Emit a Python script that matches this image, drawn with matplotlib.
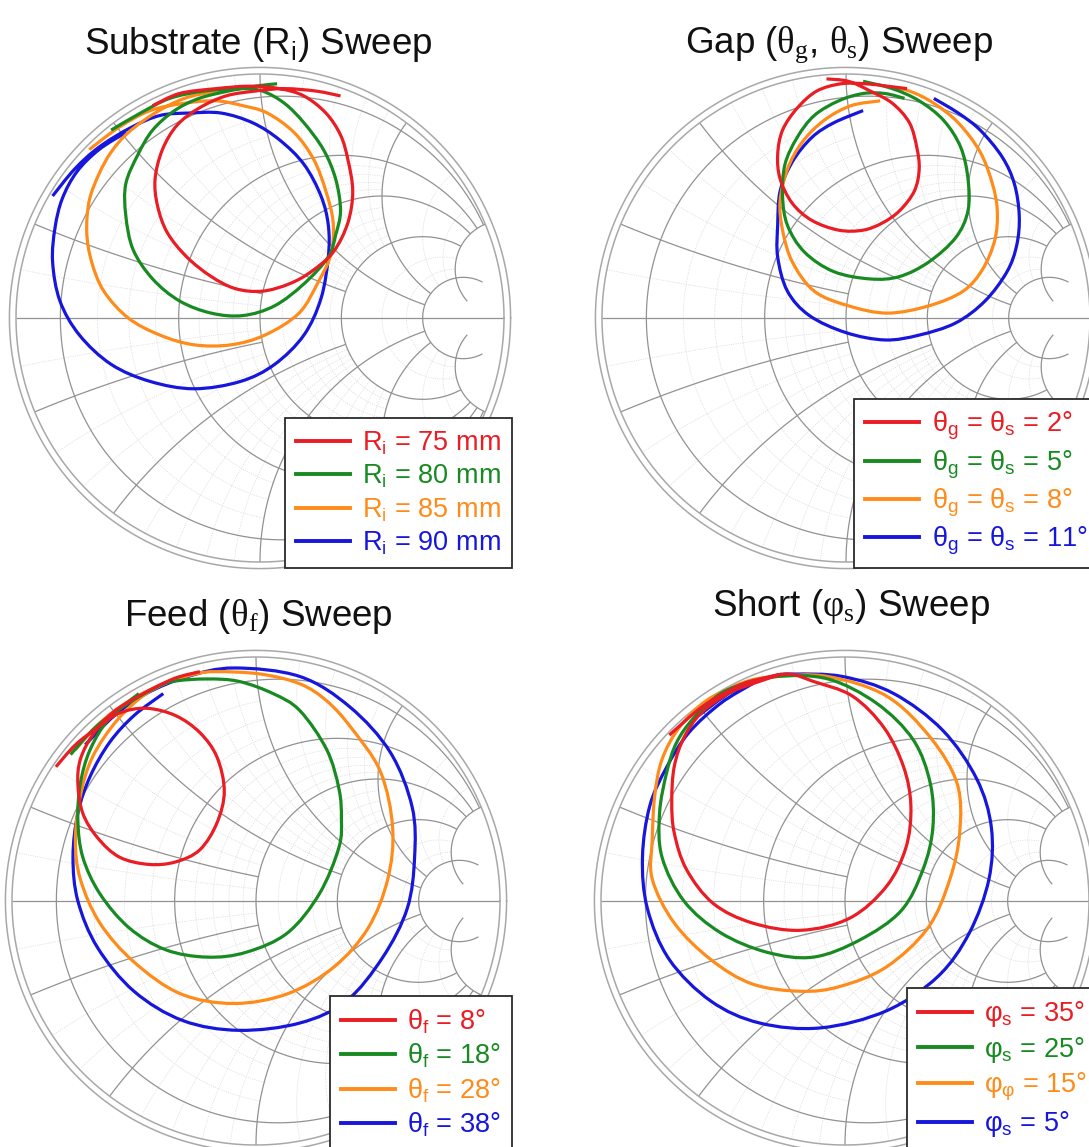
import numpy as np
import matplotlib
matplotlib.use("Agg")
import matplotlib.pyplot as plt
from matplotlib.lines import Line2D
from matplotlib.path import Path
from matplotlib.patches import PathPatch

plt.rcParams['font.family'] = ['Liberation Sans', 'DejaVu Sans']
plt.rcParams['mathtext.fontset'] = 'custom'
plt.rcParams['mathtext.rm'] = 'Liberation Sans'
plt.rcParams['mathtext.it'] = 'Liberation Sans:italic'
plt.rcParams['mathtext.bf'] = 'Liberation Sans:bold'
plt.rcParams['mathtext.sf'] = 'Liberation Sans'
plt.rcParams['mathtext.tt'] = 'Liberation Serif'

# ---------------- data: reflection coefficient loci (Re Γ, Im Γ) ----------------
# Substrate (Ri) sweep
ri75 = [(-0.44,0.87),(-0.33,0.92),(-0.18,0.94),(-0.04,0.95),(0.08,0.94),(0.18,0.91),(0.27,0.84),
        (0.33,0.75),(0.36,0.65),(0.38,0.52),(0.36,0.39),(0.30,0.27),(0.21,0.19),(0.12,0.14),
        (0.01,0.11),(-0.10,0.12),(-0.20,0.17),(-0.30,0.25),(-0.38,0.35),(-0.42,0.46),(-0.43,0.57),
        (-0.40,0.69),(-0.34,0.79),(-0.25,0.86),(-0.14,0.91),(-0.02,0.93),(0.10,0.94),(0.23,0.93),
        (0.33,0.91)]
ri80 = [(-0.61,0.77),(-0.49,0.84),(-0.37,0.90),(-0.23,0.93),(-0.08,0.94),(0.01,0.93),(0.10,0.88),
        (0.18,0.80),(0.26,0.69),(0.31,0.57),(0.33,0.44),(0.31,0.34),(0.28,0.25),(0.18,0.14),
        (0.06,0.05),(-0.07,0.01),(-0.20,0.02),(-0.33,0.07),(-0.44,0.16),(-0.52,0.28),(-0.55,0.42),
        (-0.55,0.55),(-0.50,0.67),(-0.44,0.77),(-0.35,0.85),(-0.25,0.90),(-0.13,0.93),(-0.02,0.95),
        (0.07,0.96)]
ri85 = [(-0.70,0.69),(-0.58,0.78),(-0.45,0.85),(-0.31,0.88),(-0.18,0.89),(-0.07,0.87),(0.03,0.84),
        (0.14,0.76),(0.22,0.65),(0.27,0.52),(0.30,0.39),(0.29,0.26),(0.24,0.15),(0.16,0.02),
        (0.02,-0.07),(-0.12,-0.11),(-0.27,-0.11),(-0.41,-0.07),(-0.54,0.00),(-0.64,0.11),
        (-0.69,0.23),(-0.71,0.35),(-0.70,0.48),(-0.66,0.59),(-0.61,0.68),(-0.54,0.76),(-0.43,0.84),
        (-0.31,0.90),(-0.18,0.93),(-0.08,0.95)]
ri90 = [(-0.85,0.50),(-0.76,0.61),(-0.66,0.70),(-0.53,0.78),(-0.41,0.83),(-0.29,0.84),(-0.16,0.84),
        (-0.03,0.80),(0.08,0.73),(0.18,0.63),(0.25,0.50),(0.28,0.38),(0.28,0.25),(0.25,0.08),
        (0.18,-0.07),(0.06,-0.19),(-0.08,-0.26),(-0.27,-0.29),(-0.45,-0.26),(-0.61,-0.19),
        (-0.74,-0.07),(-0.82,0.07),(-0.85,0.23),(-0.84,0.37),(-0.81,0.49),(-0.75,0.60),(-0.66,0.69),
        (-0.55,0.76)]

# Gap (θg, θs) sweep
gap2 = [(-0.08,0.98),(0.01,0.97),(0.10,0.93),(0.19,0.88),(0.26,0.80),(0.29,0.70),(0.30,0.61),
        (0.28,0.52),(0.22,0.44),(0.15,0.39),(0.07,0.36),(-0.03,0.36),(-0.14,0.40),(-0.22,0.47),
        (-0.27,0.57),(-0.28,0.67),(-0.26,0.77),(-0.20,0.86),(-0.12,0.93),(-0.02,0.96),(0.08,0.96),
        (0.17,0.95),(0.25,0.94)]
gap5 = [(0.07,0.97),(0.19,0.94),(0.30,0.89),(0.40,0.81),(0.47,0.70),(0.50,0.57),(0.50,0.44),
        (0.45,0.33),(0.34,0.23),(0.22,0.17),(0.10,0.16),(-0.05,0.19),(-0.17,0.27),(-0.24,0.38),
        (-0.26,0.50),(-0.25,0.63),(-0.20,0.74),(-0.13,0.83),(-0.03,0.89),(0.07,0.92),(0.16,0.92),
        (0.24,0.90)]
gap8 = [(0.16,0.95),(0.26,0.93),(0.36,0.88),(0.46,0.80),(0.55,0.68),(0.60,0.55),(0.62,0.44),
        (0.61,0.32),(0.56,0.20),(0.48,0.11),(0.34,0.05),(0.17,0.02),(0.01,0.05),(-0.13,0.11),
        (-0.22,0.23),(-0.26,0.36),(-0.27,0.48),(-0.24,0.61),(-0.18,0.72),(-0.09,0.81),(0.02,0.87),
        (0.14,0.89)]
gap11 = [(0.36,0.90),(0.46,0.84),(0.55,0.77),(0.64,0.66),(0.69,0.55),(0.71,0.42),(0.70,0.30),
         (0.66,0.19),(0.57,0.07),(0.45,-0.02),(0.30,-0.07),(0.16,-0.09),(0.00,-0.06),(-0.15,0.01),
         (-0.24,0.11),(-0.28,0.25),(-0.28,0.38),(-0.27,0.52),(-0.22,0.64),(-0.14,0.74),(-0.05,0.80),
         (0.07,0.85)]

# Feed (θf) sweep
feed8 = [(-0.82,0.55),(-0.74,0.64),(-0.65,0.71),(-0.56,0.77),(-0.45,0.79),(-0.33,0.76),(-0.23,0.69),
         (-0.16,0.59),(-0.13,0.45),(-0.16,0.32),(-0.23,0.21),(-0.33,0.16),(-0.44,0.15),(-0.56,0.18),
         (-0.65,0.26),(-0.71,0.36),(-0.73,0.48),(-0.72,0.58),(-0.67,0.68),(-0.59,0.77),(-0.48,0.84),
         (-0.34,0.91),(-0.23,0.94)]
feed18 = [(-0.76,0.60),(-0.66,0.71),(-0.54,0.80),(-0.42,0.87),(-0.34,0.90),(-0.20,0.91),(-0.07,0.90),
          (0.07,0.85),(0.18,0.78),(0.29,0.62),(0.34,0.46),(0.35,0.34),(0.34,0.22),(0.26,0.03),
          (0.13,-0.13),(-0.04,-0.21),(-0.20,-0.23),(-0.37,-0.20),(-0.52,-0.11),(-0.64,0.03),
          (-0.71,0.18),(-0.73,0.33),(-0.72,0.48),(-0.68,0.62),(-0.60,0.75),(-0.48,0.85)]
feed28 = [(-0.74,0.62),(-0.64,0.73),(-0.52,0.82),(-0.38,0.89),(-0.25,0.93),(-0.16,0.94),(0.02,0.93),
          (0.18,0.89),(0.29,0.82),(0.39,0.71),(0.51,0.53),(0.56,0.30),(0.54,0.09),(0.46,-0.11),
          (0.32,-0.27),(0.13,-0.38),(-0.09,-0.42),(-0.31,-0.38),(-0.50,-0.25),(-0.64,-0.09),
          (-0.72,0.09),(-0.74,0.25),(-0.72,0.43),(-0.67,0.59),(-0.57,0.74),(-0.45,0.85),(-0.31,0.92)]
feed38 = [(-0.70,0.64),(-0.58,0.76),(-0.45,0.85),(-0.28,0.92),(-0.09,0.955),(0.18,0.92),(0.385,0.795),
          (0.55,0.61),(0.64,0.385),(0.65,0.18),(0.62,-0.03),(0.52,-0.23),(0.37,-0.41),(0.18,-0.50),
          (-0.07,-0.53),(-0.30,-0.49),(-0.50,-0.37),(-0.65,-0.19),(-0.73,0.00),(-0.75,0.18),
          (-0.73,0.36),(-0.68,0.51),(-0.60,0.65),(-0.50,0.76),(-0.38,0.85)]

# Short (φs) sweep
short35 = [(-0.72,0.68),(-0.58,0.80),(-0.44,0.88),(-0.35,0.91),(-0.23,0.93),(-0.13,0.90),(0.03,0.84),
           (0.16,0.71),(0.24,0.55),(0.27,0.39),(0.25,0.22),(0.17,0.06),(0.02,-0.07),(-0.18,-0.12),
           (-0.38,-0.09),(-0.54,-0.01),(-0.65,0.13),(-0.70,0.28),(-0.71,0.41),(-0.70,0.55),
           (-0.66,0.67),(-0.59,0.77),(-0.48,0.85),(-0.38,0.89),(-0.26,0.93)]
short25 = [(-0.55,0.81),(-0.42,0.88),(-0.28,0.92),(-0.07,0.91),(0.13,0.81),(0.28,0.66),(0.35,0.48),
           (0.36,0.30),(0.32,0.13),(0.23,-0.04),(0.06,-0.16),(-0.13,-0.23),(-0.32,-0.21),(-0.51,-0.13),
           (-0.66,0.00),(-0.75,0.18),(-0.76,0.36),(-0.73,0.53),(-0.69,0.65),(-0.62,0.75),(-0.51,0.85),
           (-0.39,0.90)]
short15 = [(-0.58,0.79),(-0.43,0.89),(-0.28,0.92),(-0.07,0.92),(0.17,0.84),(0.35,0.67),(0.46,0.48),
           (0.47,0.28),(0.43,0.09),(0.34,-0.11),(0.17,-0.27),(-0.02,-0.35),(-0.18,-0.37),(-0.38,-0.34),
           (-0.55,-0.24),(-0.70,-0.09),(-0.79,0.09),(-0.79,0.25),(-0.78,0.43),(-0.75,0.58),(-0.68,0.71),
           (-0.57,0.82),(-0.43,0.89)]
short5 = [(-0.60,0.76),(-0.46,0.86),(-0.30,0.92),(-0.21,0.93),(-0.01,0.92),(0.20,0.85),(0.40,0.70),
          (0.54,0.50),(0.60,0.30),(0.59,0.09),(0.51,-0.13),(0.38,-0.31),(0.17,-0.45),(-0.10,-0.52),
          (-0.35,-0.50),(-0.55,-0.41),(-0.72,-0.24),(-0.81,-0.03),(-0.83,0.18),(-0.80,0.39),
          (-0.73,0.55),(-0.64,0.69),(-0.51,0.81),(-0.38,0.89)]

substrate_labels = [r'$\mathrm{R_i}$ = 75 mm', r'$\mathrm{R_i}$ = 80 mm',
                    r'$\mathrm{R_i}$ = 85 mm', r'$\mathrm{R_i}$ = 90 mm']
gap_labels = [r'$\mathrm{\theta_g}$ = $\mathrm{\theta_s}$ = 2°', r'$\mathrm{\theta_g}$ = $\mathrm{\theta_s}$ = 5°',
              r'$\mathrm{\theta_g}$ = $\mathrm{\theta_s}$ = 8°', r'$\mathrm{\theta_g}$ = $\mathrm{\theta_s}$ = 11°']
feed_labels = [r'$\mathrm{\theta_f}$ = 8°', r'$\mathrm{\theta_f}$ = 18°',
               r'$\mathrm{\theta_f}$ = 28°', r'$\mathrm{\theta_f}$ = 38°']
short_labels = [r'$\mathrm{\varphi_s}$ = 35°', r'$\mathrm{\varphi_s}$ = 25°',
                r'$\mathrm{\varphi_\varphi}$ = 15°', r'$\mathrm{\varphi_s}$ = 5°']
titles = [r'Substrate ($\mathrm{R_i}$) Sweep', r'Gap ($\mathtt{\theta_g}$, $\mathtt{\theta_s}$) Sweep',
          r'Feed ($\mathtt{\theta_f}$) Sweep', r'Short ($\mathtt{\varphi_s}$) Sweep']

# ---------------- styling / layout ----------------
COLORS = ['#ea1c24', '#188a22', '#ff8c1a', '#1616dc']
W, H = 1089, 1147
R_PX = 244.0
L = 1.06
fig = plt.figure(figsize=(W / 100, H / 100), dpi=100)

MAJ = dict(color='#929292', lw=0.9, zorder=2, solid_capstyle='butt')
MIN = dict(color='#dcdcdc', lw=0.55, zorder=1, linestyle=(0, (1.5, 1.5)))


def gam(z):
    return (z - 1) / (z + 1)


def r_arc(ax, r, xmax, style):
    t = np.linspace(-np.arctan(xmax), np.arctan(xmax), 500)
    g = gam(r + 1j * np.tan(t))
    ax.plot(g.real, g.imag, **style)


def x_arc(ax, x, rmax, style):
    t = np.linspace(0, np.arctan(rmax), 400)
    for s in (1, -1):
        g = gam(np.tan(t) + 1j * s * x)
        ax.plot(g.real, g.imag, **style)


def smith_grid(ax):
    for r, xm in [(0.2, 1), (0.3, 1), (0.4, 1), (0.6, 2), (0.7, 2), (0.8, 2), (0.9, 2),
                  (1.2, 2), (1.4, 2), (1.6, 2), (1.8, 2), (3, 5), (4, 5)]:
        r_arc(ax, r, xm, MIN)
    for x, rm in [(0.1, 1), (0.3, 1), (0.4, 1), (0.6, 2), (0.7, 2), (0.8, 2), (0.9, 2),
                  (1.2, 2), (1.4, 2), (1.6, 2), (1.8, 2), (3, 5), (4, 5)]:
        x_arc(ax, x, rm, MIN)
    for r, xm in [(0.1, 5), (0.5, 5), (1, 5), (2, 5), (5, 10)]:
        r_arc(ax, r, xm, MAJ)
    for x, rm in [(0.2, 1), (0.5, 2), (1, 5), (2, 5), (5, 10)]:
        x_arc(ax, x, rm, MAJ)
    ax.plot([-1, 1], [0, 0], **MAJ)
    th = np.linspace(0, 2 * np.pi, 720)
    for rad in (1.0, 1.027):
        ax.plot(rad * np.cos(th), rad * np.sin(th), color='#a8a8a8', lw=1.1, zorder=2)


def smooth_path(pts):
    """Path through the read points, drawn with cubic Bezier segments."""
    P = np.asarray(pts, dtype=float)
    n = len(P)
    verts = [P[0]]
    codes = [Path.MOVETO]
    for i in range(n - 1):
        p0 = P[i - 1] if i > 0 else P[i]
        p1, p2 = P[i], P[i + 1]
        p3 = P[i + 2] if i + 2 < n else P[i + 1]
        verts += [p1 + (p2 - p0) / 6.0, p2 - (p3 - p1) / 6.0, p2]
        codes += [Path.CURVE4] * 3
    return Path(verts, codes)


charts = [
    dict(c=(260, 318), curves=[ri75, ri80, ri85, ri90], labels=substrate_labels,
         title=titles[0], tpos=(258, 45), anchor=(512, 568)),
    dict(c=(846, 318), curves=[gap2, gap5, gap8, gap11], labels=gap_labels,
         title=titles[1], tpos=(839, 45), anchor=(1098, 568)),
    dict(c=(256, 901), curves=[feed8, feed18, feed28, feed38], labels=feed_labels,
         title=titles[2], tpos=(258, 617), anchor=(512, 1150)),
    dict(c=(845, 901), curves=[short35, short25, short15, short5], labels=short_labels,
         title=titles[3], tpos=(851, 607), anchor=(1098, 1150)),
]

for ch in charts:
    cx, cy = ch['c']
    size = 2 * L * R_PX
    ax = fig.add_axes([(cx - L * R_PX) / W, (H - cy - L * R_PX) / H, size / W, size / H])
    ax.set_xlim(-L, L)
    ax.set_ylim(-L, L)
    ax.axis('off')
    smith_grid(ax)
    handles = [Line2D([], [], color=col, lw=2.8) for col in COLORS]
    for pts, col in reversed(list(zip(ch['curves'], COLORS))):
        ax.add_patch(PathPatch(smooth_path(pts), fill=False, edgecolor=col, lw=2.3,
                               zorder=5, capstyle='butt', joinstyle='round'))
    ax_, ay_ = ch['anchor']
    leg = ax.legend(handles, ch['labels'], loc='lower right',
                    bbox_to_anchor=(ax_ / W, 1 - ay_ / H), bbox_transform=fig.transFigure,
                    fontsize=19.5, frameon=True, fancybox=False, framealpha=1,
                    edgecolor='#2a2a2a', handlelength=2.0, handletextpad=0.45,
                    labelspacing=0.22, borderpad=0.4, borderaxespad=0, labelcolor='linecolor')
    leg.get_frame().set_linewidth(1.3)
    leg.set_zorder(20)
    tx, ty = ch['tpos']
    fig.text(tx / W, 1 - ty / H, ch['title'], ha='center', va='center', fontsize=26.5, color='#111111')

fig.savefig('out.png', dpi=100)
